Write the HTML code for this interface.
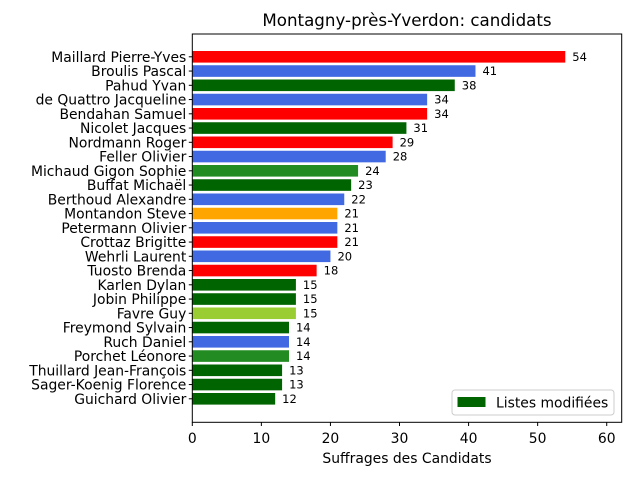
<!DOCTYPE html>
<html><head><meta charset="utf-8"><style>
body{margin:0;background:#fff;font-family:"Liberation Sans","DejaVu Sans",sans-serif}
svg text{font-family:"DejaVu Sans","Liberation Sans",sans-serif}
</style></head><body>
<svg id="chart" width="640" height="480" xmlns="http://www.w3.org/2000/svg">
<rect width="640" height="480" fill="#fff"/>
<text x="407" y="26" font-size="16.7" text-anchor="middle" fill="#000">Montagny-près-Yverdon: candidats</text>
<g id="bars"></g>
<rect x="192.3" y="34" width="429.4" height="388.3" fill="none" stroke="#000" stroke-width="1"/>
<g id="xaxis"></g><g id="yaxis"></g>
<text x="407" y="463" font-size="13.9" text-anchor="middle">Suffrages des Candidats</text>
<g>
<rect x="452" y="390" width="162" height="25" rx="3" fill="#fff" stroke="#ccc"/>
<rect x="457.5" y="397" width="28" height="10" fill="#006400"/>
<text x="496" y="407.5" font-size="13.9">Listes modifiées</text>
</g>
</svg>
<script>
const names=["Maillard Pierre-Yves","Broulis Pascal","Pahud Yvan","de Quattro Jacqueline","Bendahan Samuel","Nicolet Jacques","Nordmann Roger","Feller Olivier","Michaud Gigon Sophie","Buffat Michaël","Berthoud Alexandre","Montandon Steve","Petermann Olivier","Crottaz Brigitte","Wehrli Laurent","Tuosto Brenda","Karlen Dylan","Jobin Philippe","Favre Guy","Freymond Sylvain","Ruch Daniel","Porchet Léonore","Thuillard Jean-François","Sager-Koenig Florence","Guichard Olivier"];
const votes=[54,41,38,34,34,31,29,28,24,23,22,21,21,21,20,18,15,15,15,14,14,14,13,13,12];
const colors=["#ff0000","#4169e1","#006400","#4169e1","#ff0000","#006400","#ff0000","#4169e1","#228b22","#006400","#4169e1","#ffa500","#4169e1","#ff0000","#4169e1","#ff0000","#006400","#006400","#9acd32","#006400","#4169e1","#228b22","#006400","#006400","#006400"];
const xTicks=[0,10,20,30,40,50,60];
const NS="http://www.w3.org/2000/svg";
const x0=192.3,xs=6.907;
const X=v=>x0+v*xs;
const Y=i=>56.8+i*14.25;
const bh=11.6;
function mk(t,a,p){const e=document.createElementNS(NS,t);for(const k in a)e.setAttribute(k,a[k]);p.appendChild(e);return e;}
const bars=document.getElementById('bars'),ya=document.getElementById('yaxis'),xa=document.getElementById('xaxis');
names.forEach((n,i)=>{
 const r=mk('rect',{x:X(0),y:Y(i)-bh/2,width:X(votes[i])-X(0),height:bh,fill:colors[i]},bars);
 
 
 const v=mk('text',{x:X(votes[i])+7,y:Y(i)+4,'font-size':11.5},bars);v.textContent=votes[i];
 
 
 mk('line',{x1:x0-3.5,x2:x0,y1:Y(i),y2:Y(i),stroke:'#000'},ya);
 const t=mk('text',{x:x0-6,y:Y(i)+5,'font-size':13.9,'text-anchor':'end'},ya);t.textContent=n;
 
 
});
xTicks.forEach(v=>{
 mk('line',{x1:X(v),x2:X(v),y1:422.3,y2:426,stroke:'#000'},xa);
 const t=mk('text',{x:X(v),y:443,'font-size':13.9,'text-anchor':'middle'},xa);t.textContent=v;
 
 
});
</script>
</body></html>
